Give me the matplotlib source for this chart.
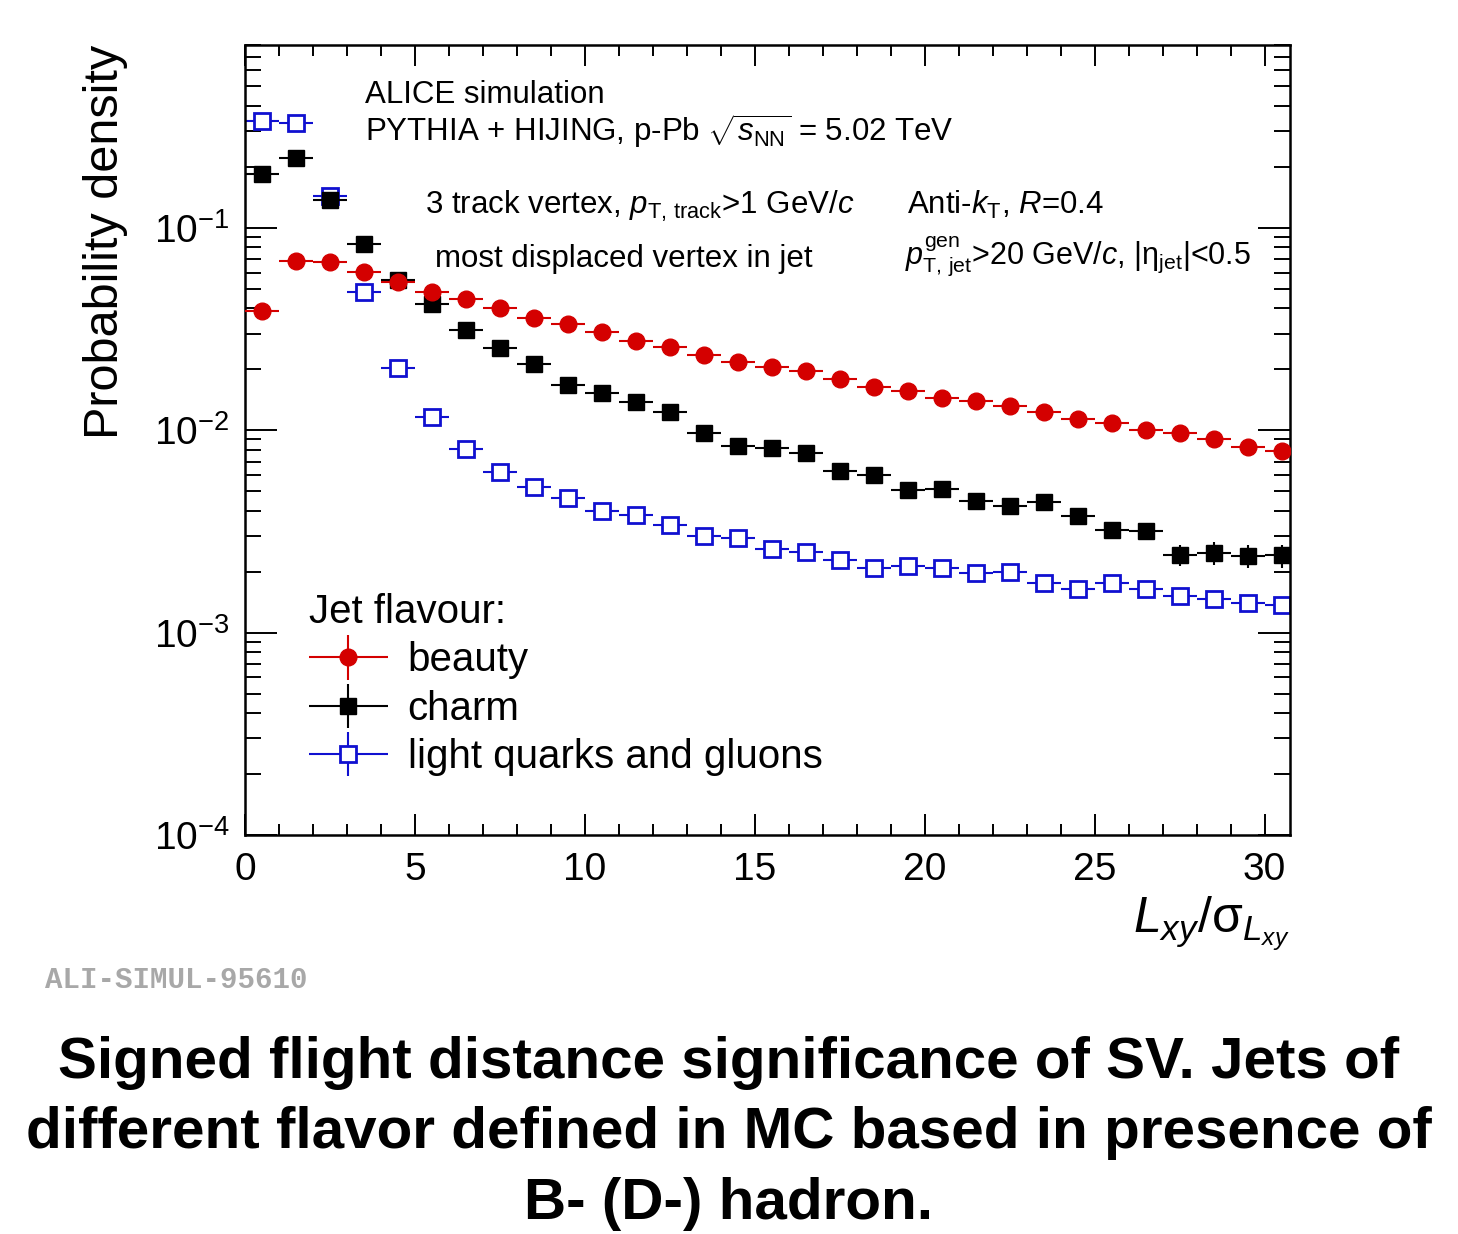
import numpy as np
import matplotlib
matplotlib.use("Agg")
from matplotlib import pyplot as plt
from matplotlib.container import ErrorbarContainer
from matplotlib.legend_handler import HandlerErrorbar

plt.rcParams['font.family'] = ['Liberation Sans', 'DejaVu Sans']
plt.rcParams['mathtext.fontset'] = 'custom'
plt.rcParams['mathtext.rm'] = 'Liberation Sans'
plt.rcParams['mathtext.it'] = 'Liberation Sans:italic'
plt.rcParams['mathtext.bf'] = 'Liberation Sans:bold'

# bin centres of L_xy / sigma (unit bins)
x_centers = [0.5, 1.5, 2.5, 3.5, 4.5, 5.5, 6.5, 7.5, 8.5, 9.5, 10.5,
             11.5, 12.5, 13.5, 14.5, 15.5, 16.5, 17.5, 18.5, 19.5, 20.5,
             21.5, 22.5, 23.5, 24.5, 25.5, 26.5, 27.5, 28.5, 29.5, 30.5]
x_halfwidth = 0.5

beauty = [0.0389, 0.0687, 0.0677, 0.0604, 0.0540, 0.0484, 0.0443, 0.0401,
          0.0357, 0.0336, 0.0305, 0.0277, 0.0258, 0.0236, 0.0218, 0.0206,
          0.0195, 0.0180, 0.0164, 0.0157, 0.0145, 0.0140, 0.0132, 0.0123,
          0.0114, 0.0108, 0.0100, 0.0097, 0.0090, 0.0083, 0.0079]
charm = [0.184, 0.222, 0.137, 0.0834, 0.0553, 0.0421, 0.0311, 0.0255,
         0.0212, 0.0168, 0.0153, 0.0138, 0.0123, 0.00964, 0.00838, 0.00818,
         0.00768, 0.0063, 0.0060, 0.00505, 0.00513, 0.00445, 0.00422, 0.00443,
         0.00378, 0.00323, 0.00317, 0.00242, 0.00247, 0.00240, 0.00241]
light = [0.337, 0.330, 0.143, 0.048, 0.0204, 0.01156, 0.0081, 0.00624,
         0.00526, 0.00464, 0.0040, 0.00381, 0.00339, 0.00299, 0.00295, 0.00259,
         0.00249, 0.00229, 0.00209, 0.00213, 0.00209, 0.00197, 0.0020, 0.00176,
         0.00164, 0.00176, 0.00164, 0.00151, 0.00146, 0.0014, 0.00137]

# relative stat. errors (only visible for charm tail)
beauty_rel = [0.01] * 31
charm_rel = [0.01, 0.01, 0.01, 0.01, 0.02, 0.02, 0.02, 0.02, 0.03, 0.03, 0.03,
             0.03, 0.04, 0.04, 0.04, 0.05, 0.05, 0.05, 0.06, 0.06, 0.06,
             0.07, 0.07, 0.07, 0.08, 0.09, 0.10, 0.12, 0.13, 0.13, 0.13]
light_rel = [0.01] * 31

series_labels = ['beauty', 'charm', 'light quarks and gluons']

red = '#d40000'
blue = '#1010d0'

W, H = 1458, 1234
fig = plt.figure(figsize=(W / 100, H / 100), dpi=100)
ax = fig.add_axes([245 / W, 1 - 835 / H, 1045 / W, 790 / H])

def err(vals, rel):
    return np.array(vals) * np.array(rel)

h_light = ax.errorbar(x_centers, light, xerr=x_halfwidth, yerr=err(light, light_rel),
                      fmt='s', ms=12, mfc='white', mec=blue, mew=2, color=blue,
                      elinewidth=1.5, capsize=0, label=series_labels[2], zorder=2)
h_charm = ax.errorbar(x_centers, charm, xerr=x_halfwidth, yerr=err(charm, charm_rel),
                      fmt='s', ms=11.5, color='black', elinewidth=1.5, capsize=0,
                      label=series_labels[1], zorder=3)
h_beauty = ax.errorbar(x_centers, beauty, xerr=x_halfwidth, yerr=err(beauty, beauty_rel),
                       fmt='o', ms=12, color=red, elinewidth=1.5, capsize=0,
                       label=series_labels[0], zorder=4)

ax.set_yscale('log')
ax.set_xlim(0, 30.75)
ax.set_ylim(1e-4, 0.8)
ax.set_xticks([0, 5, 10, 15, 20, 25, 30])
ax.set_xticks(range(0, 31), minor=True)

for s in ax.spines.values():
    s.set_linewidth(1.8)
ax.tick_params(which='both', direction='in', top=True, right=True, width=1.4)
ax.tick_params(axis='x', which='major', length=15, pad=12, labelsize=28)
ax.tick_params(axis='x', which='minor', length=8)
ax.tick_params(axis='y', which='major', length=23, pad=11, labelsize=28)
ax.tick_params(axis='y', which='minor', length=11.5)

ax.set_ylabel('Probability density', fontsize=35, loc='top')
ax.yaxis.set_label_coords(-0.112, 1.0)
ax.set_xlabel(r'$L_{xy}\mathrm{/\sigma}_{L_{xy}}$', fontsize=36, loc='right')
ax.xaxis.set_label_coords(1.0, -0.075)

# header texts
fs = 22.5
fig.text(365 / W, 1 - 103 / H, 'ALICE simulation', fontsize=fs, va='baseline')
fig.text(365 / W, 1 - 141 / H,
         r'PYTHIA + HIJING, p-Pb $\sqrt{s_{\mathrm{NN}}}$ = 5.02 TeV',
         fontsize=fs, va='baseline')
fig.text(425 / W, 1 - 214 / H,
         r'3 track vertex, $p_{\mathrm{T,\,track}}$>1 GeV/$c$',
         fontsize=fs, va='baseline')
fig.text(435 / W, 1 - 267 / H, 'most displaced vertex in jet',
         fontsize=fs, va='baseline')
fig.text(907 / W, 1 - 214 / H, r'Anti-$k_{\mathrm{T}}$, $R$=0.4',
         fontsize=fs, va='baseline')
fig.text(905 / W, 1 - 264 / H,
         r'$p_{\mathrm{T,\,jet}}^{\mathrm{gen}}$>20 GeV/$c$, |$\mathrm{\eta}_{\mathrm{jet}}$|<0.5',
         fontsize=22, va='baseline')

leg = ax.legend(handles=[h_beauty, h_charm, h_light], title='Jet flavour:',
                loc='upper left', bbox_to_anchor=(309 / W, 1 - 593 / H),
                bbox_transform=fig.transFigure, frameon=False, fontsize=29,
                title_fontsize=29, alignment='left', handlelength=1.95,
                handletextpad=0.5, labelspacing=0.26, borderpad=0, borderaxespad=0,
                handler_map={ErrorbarContainer: HandlerErrorbar(xerr_size=0.98, yerr_size=0.55)})

fig.text(45 / W, 1 - 980 / H, 'ALI-SIMUL-95610', fontsize=21, family='Liberation Mono',
         weight='bold', color='#a8a8a8', va='center')

caption = ['Signed flight distance significance of SV. Jets of',
           'different flavor defined in MC based in presence of',
           'B- (D-) hadron.']
for i, line in enumerate(caption):
    fig.text(0.5, 1 - (1063 + 70.5 * i) / H, line, fontsize=42, weight='bold',
             ha='center', va='center')

fig.savefig('out.png', dpi=100)
